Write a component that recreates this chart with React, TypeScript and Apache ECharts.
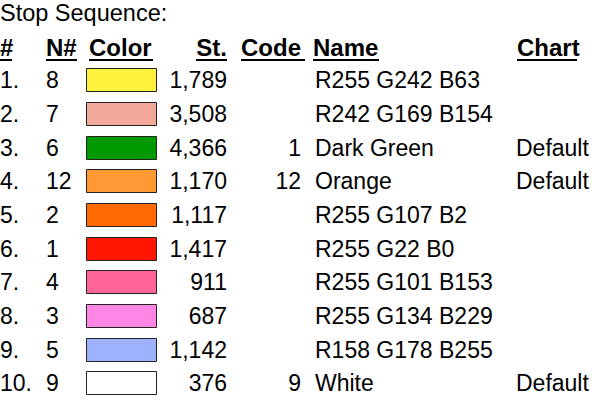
import React, { useEffect, useRef } from "react";
import * as echarts from "echarts";

const title = "Stop Sequence:";
const headers = ["#", "N#", "Color", "St.", "Code", "Name", "Chart"];
const ranks = ["1.", "2.", "3.", "4.", "5.", "6.", "7.", "8.", "9.", "10."];
const nums = [8, 7, 6, 12, 2, 1, 4, 3, 5, 9];
const stValues = [1789, 3508, 4366, 1170, 1117, 1417, 911, 687, 1142, 376];
const codes = ["", "", "1", "12", "", "", "", "", "", "9"];
const names = [
  "R255 G242 B63",
  "R242 G169 B154",
  "Dark Green",
  "Orange",
  "R255 G107 B2",
  "R255 G22 B0",
  "R255 G101 B153",
  "R255 G134 B229",
  "R158 G178 B255",
  "White",
];
const charts = ["", "", "Default", "Default", "", "", "", "", "", "Default"];
const colors = [
  "rgb(255,242,63)",
  "rgb(242,169,154)",
  "#009900",
  "#FF9933",
  "rgb(255,107,2)",
  "rgb(255,22,0)",
  "rgb(255,101,153)",
  "rgb(255,134,229)",
  "rgb(158,178,255)",
  "#FFFFFF",
];

const FONT = "'Liberation Sans', Arial, sans-serif";
const FS = 23;

// header layout: [x, align, underline start, underline end]
const headerLayout: [number, string, number, number][] = [
  [0, "left", 0, 12],
  [46, "left", 46, 77],
  [89, "left", 89, 153],
  [227, "right", 196, 227],
  [241, "left", 241, 305],
  [313, "left", 313, 379],
  [517, "left", 517, 577],
];

export default function App() {
  const ref = useRef<HTMLDivElement>(null);
  useEffect(() => {
    document.body.style.margin = "0";
    const chart = echarts.init(ref.current!, null, { renderer: "svg" });
    const graphics: any[] = [
      {
        type: "text",
        x: 0,
        y: 12.5,
        style: { text: title, font: `23.5px ${FONT}`, fill: "#000", align: "left", verticalAlign: "middle" },
      },
    ];
    headers.forEach((h, i) => {
      const [x, align, u0, u1] = headerLayout[i];
      graphics.push({
        type: "text",
        x,
        y: 47.5,
        style: { text: h, font: `bold 24px ${FONT}`, fill: "#000", align, verticalAlign: "middle" },
      });
      graphics.push({
        type: "line",
        shape: { x1: u0, y1: 60, x2: u1, y2: 60 },
        style: { stroke: "#000", lineWidth: 2 },
      });
    });

    const txt = (text: string, x: number, y: number, align: string) => ({
      type: "text",
      x,
      y,
      style: { text, font: `${FS}px ${FONT}`, fill: "#000", align, verticalAlign: "middle" },
    });

    chart.setOption({
      animation: false,
      backgroundColor: "#fff",
      grid: { left: 0, right: 0, top: 63.5, height: 336.7, containLabel: false },
      xAxis: { type: "value", min: 0, max: 1, show: false },
      yAxis: { type: "category", data: ranks, inverse: true, show: false },
      graphic: graphics,
      series: [
        {
          type: "custom",
          data: ranks.map((_, i) => [0, i]),
          renderItem: (params: any, api: any) => {
            const i = params.dataIndex;
            const cy = api.coord([0, api.value(1)])[1];
            const top = Math.round(cy - 12) + 0.5;
            return {
              type: "group",
              children: [
                txt(ranks[i], 0, cy, "left"),
                txt(String(nums[i]), 46, cy, "left"),
                {
                  type: "rect",
                  shape: { x: 86.5, y: top, width: 70, height: 23 },
                  style: { fill: colors[i], stroke: "#222", lineWidth: 1 },
                },
                txt(stValues[i].toLocaleString("en-US"), 227, cy, "right"),
                txt(codes[i], 301, cy, "right"),
                txt(names[i], 315, cy, "left"),
                txt(charts[i], 516, cy, "left"),
              ],
            };
          },
        },
      ],
    });
    return () => chart.dispose();
  }, []);
  return <div ref={ref} style={{ width: 597, height: 402 }} />;
}
